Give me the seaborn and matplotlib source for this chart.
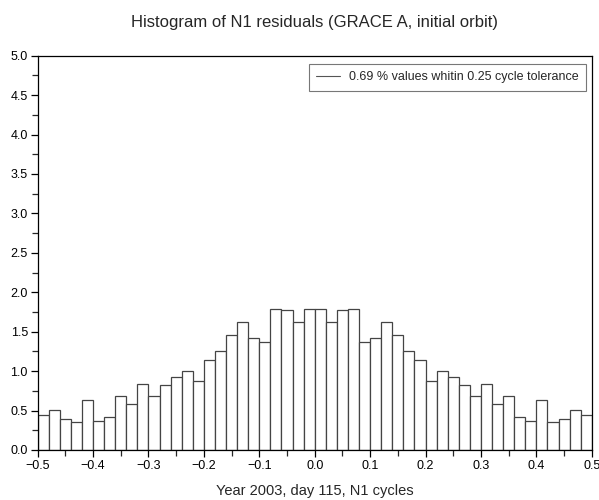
import numpy as np
import pandas as pd
import matplotlib
matplotlib.use("Agg")
import matplotlib.pyplot as plt
from matplotlib.ticker import MultipleLocator
from matplotlib.lines import Line2D
import seaborn as sns

# Histogram data (bin width 0.02 from -0.5 to 0.5)
bin_edges = [round(-0.5 + 0.02 * i, 2) for i in range(51)]
left_half = [0.45, 0.51, 0.39, 0.35, 0.64, 0.37, 0.42, 0.69, 0.58, 0.84,
             0.68, 0.83, 0.93, 1.00, 0.88, 1.14, 1.25, 1.46, 1.62, 1.42,
             1.37, 1.79, 1.78, 1.62, 1.79]
right_half = [1.79, 1.62, 1.78, 1.79, 1.37, 1.42, 1.62, 1.46, 1.25, 1.14,
              0.88, 1.00, 0.93, 0.83, 0.68, 0.84, 0.58, 0.69, 0.42, 0.37,
              0.64, 0.35, 0.39, 0.51, 0.45]
heights = left_half + right_half
centers = [round((bin_edges[i] + bin_edges[i + 1]) / 2, 3) for i in range(50)]

x_ticks = [-0.5, -0.4, -0.3, -0.2, -0.1, 0.0, 0.1, 0.2, 0.3, 0.4, 0.5]
x_ticklabels = ["\u22120.5", "\u22120.4", "\u22120.3", "\u22120.2", "\u22120.1",
                "0.0", "0.1", "0.2", "0.3", "0.4", "0.5"]
y_ticks = [0.0, 0.5, 1.0, 1.5, 2.0, 2.5, 3.0, 3.5, 4.0, 4.5, 5.0]
y_ticklabels = ["0.0", "0.5", "1.0", "1.5", "2.0", "2.5", "3.0", "3.5",
                "4.0", "4.5", "5.0"]

title = "Histogram of N1 residuals (GRACE A, initial orbit)"
xlabel = "Year 2003, day 115, N1 cycles"
legend_label = "0.69 % values whitin 0.25 cycle tolerance"

sns.set_style("ticks")
plt.rcParams['font.family'] = ['Liberation Sans', 'DejaVu Sans']

df = pd.DataFrame({"x": centers, "w": heights})

fig = plt.figure(figsize=(5.99, 5.0), dpi=100)
ax_left, ax_bottom, ax_w, ax_h = 0.0628, 0.1, 0.9252, 0.7886
ax = fig.add_axes([ax_left, ax_bottom, ax_w, ax_h])

sns.histplot(data=df, x="x", weights="w", bins=bin_edges, ax=ax,
             color="white", edgecolor="#444444", linewidth=0.9, alpha=1.0)

ax.set_xlim(-0.5, 0.5)
ax.set_ylim(0, 5.0)
ax.set_xticks(x_ticks)
ax.set_xticklabels(x_ticklabels)
ax.set_yticks(y_ticks)
ax.set_yticklabels(y_ticklabels)
ax.xaxis.set_minor_locator(MultipleLocator(0.05))
ax.yaxis.set_minor_locator(MultipleLocator(0.25))
ax.tick_params(axis="both", which="major", direction="out", length=5,
               width=0.9, labelsize=9, pad=2, colors="black")
ax.tick_params(axis="both", which="minor", direction="out", length=4, width=0.9)
for s in ax.spines.values():
    s.set_visible(True)
    s.set_linewidth(0.9)
    s.set_color("black")

ax.set_ylabel("")
ax.set_xlabel(xlabel, fontsize=10.5, labelpad=9)
fig.text(ax_left + ax_w / 2, 1 - 22.5 / 500, title, fontsize=12,
         ha="center", va="center")

handle = Line2D([], [], color="#555555", linewidth=0.8)
leg = ax.legend([handle], [legend_label], loc="upper right", fontsize=9,
                frameon=True, fancybox=False, edgecolor="#555555",
                handlelength=1.9, handletextpad=0.7, borderpad=0.6,
                borderaxespad=0, bbox_to_anchor=(0.989, 0.98))
leg.get_frame().set_linewidth(0.8)

fig.savefig("out.png", dpi=100)
